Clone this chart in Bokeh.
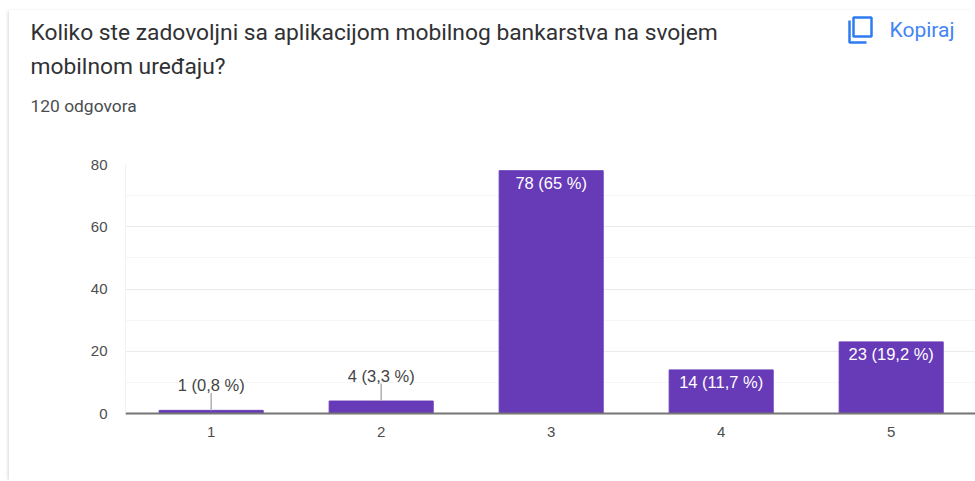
from bokeh.embed import file_html
from bokeh.resources import INLINE
from bokeh.plotting import figure
from bokeh.layouts import column
from bokeh.models import Range1d, FixedTicker, ColumnDataSource
from bokeh.core.properties import value

categories = [1, 2, 3, 4, 5]
counts = [1, 4, 78, 14, 23]
labels = ["1 (0,8 %)", "4 (3,3 %)", "78 (65 %)", "14 (11,7 %)", "23 (19,2 %)"]
y_ticks = [0, 20, 40, 60, 80]
y_minor = [10, 30, 50, 70]
title_lines = ["Koliko ste zadovoljni sa aplikacijom mobilnog bankarstva na svojem", "mobilnom uređaju?"]
subtitle = "120 odgovora"
copy_text = "Kopiraj"

PURPLE = "#673ab7"
BLUE = "#2f7bf0"
W, H = 975, 481
CARD_X, CARD_Y = 9, 10          # where the card begins on the page
HEAD_B = 150                    # page y where the header ends
CARD_W = W - CARD_X

# header: a figure without axes whose data units are the page's pixels ----
head = figure(width=CARD_W, height=HEAD_B - CARD_Y, output_backend="svg", toolbar_location=None,
              x_range=Range1d(CARD_X, W), y_range=Range1d(HEAD_B, CARD_Y),
              x_axis_location=None, y_axis_location=None, min_border=0,
              outline_line_color=None, frame_align=False)
head.grid.visible = False


def say(x, y, text, size, color):
    head.text(x=[x], y=[y], text=[text], text_font=value("Roboto"), text_font_size=size,
              text_color=color, text_baseline="middle", text_align="left")


say(30, 32, title_lines[0], "22.8px", "#303134")
say(30, 66, title_lines[1], "22.8px", "#303134")
say(30, 105, subtitle, "17.4px", "#4a4d50")
say(889, 29, copy_text, "21px", "#4285f4")

# copy icon
head.quad(left=[853], right=[871], top=[17], bottom=[36], fill_color=None, line_color=BLUE, line_width=2.5)
head.line(x=[849, 849, 866], y=[20, 42, 42], line_color=BLUE, line_width=2.5)

# chart -------------------------------------------------------------------
p = figure(width=CARD_W, height=H - HEAD_B, output_backend="svg", toolbar_location=None,
           x_range=Range1d(0.496, 5.496), y_range=Range1d(0, 80),
           min_border_left=125 - CARD_X, min_border_right=0, min_border_top=164 - HEAD_B,
           min_border_bottom=H - 413, outline_line_color=None, frame_align=False)

p.xaxis.ticker = FixedTicker(ticks=categories)
p.yaxis.ticker = FixedTicker(ticks=y_ticks, minor_ticks=y_minor)
for ax in (p.xaxis[0], p.yaxis[0]):
    ax.major_tick_line_color = None
    ax.minor_tick_line_color = None
    ax.major_label_text_font = "Liberation Sans"
    ax.major_label_text_font_size = "15px"
    ax.major_label_text_color = "#4d4d4d"
p.xaxis.axis_line_color = "#757575"
p.xaxis.axis_line_width = 2
p.xaxis.major_label_standoff = 7
p.yaxis.axis_line_color = "#f2f2f2"
p.yaxis.major_label_standoff = 12
p.xgrid.visible = False
p.ygrid.grid_line_color = "#ebebeb"
p.ygrid.minor_grid_line_color = "#f6f6f6"

src = ColumnDataSource(dict(x=categories, top=counts))
p.vbar(x="x", top="top", width=0.612, bottom=0, source=src, fill_color=PURPLE, line_color=PURPLE)

outside = [i for i, c in enumerate(counts) if c < 10]
inside = [i for i, c in enumerate(counts) if c >= 10]

out_src = ColumnDataSource(dict(
    x=[categories[i] for i in outside],
    y=[counts[i] for i in outside],
    y1=[counts[i] + 5.6 for i in outside],
    label=[labels[i] for i in outside]))
p.segment(x0="x", y0="y", x1="x", y1="y1", source=out_src, line_color="#b0b0b0", line_width=1.5)
p.text(x="x", y="y1", text="label", source=out_src, text_align="center", text_baseline="bottom",
       text_font=value("Liberation Sans"), text_font_size="16.5px", text_color="#444444", y_offset=1)

in_src = ColumnDataSource(dict(
    x=[categories[i] for i in inside],
    y=[counts[i] for i in inside],
    label=[labels[i] for i in inside]))
p.text(x="x", y="y", text="label", source=in_src, text_align="center", text_baseline="middle",
       text_font=value("Liberation Sans"), text_font_size="16.5px", text_color="#ffffff", y_offset=12)

page = column(head, p, spacing=0, margin=(CARD_Y, 0, 0, CARD_X),
              styles={"box-shadow": "-2px 0 3px -1px rgba(0,0,0,0.16)"})
open("out.html", "w").write(file_html(page, INLINE))
